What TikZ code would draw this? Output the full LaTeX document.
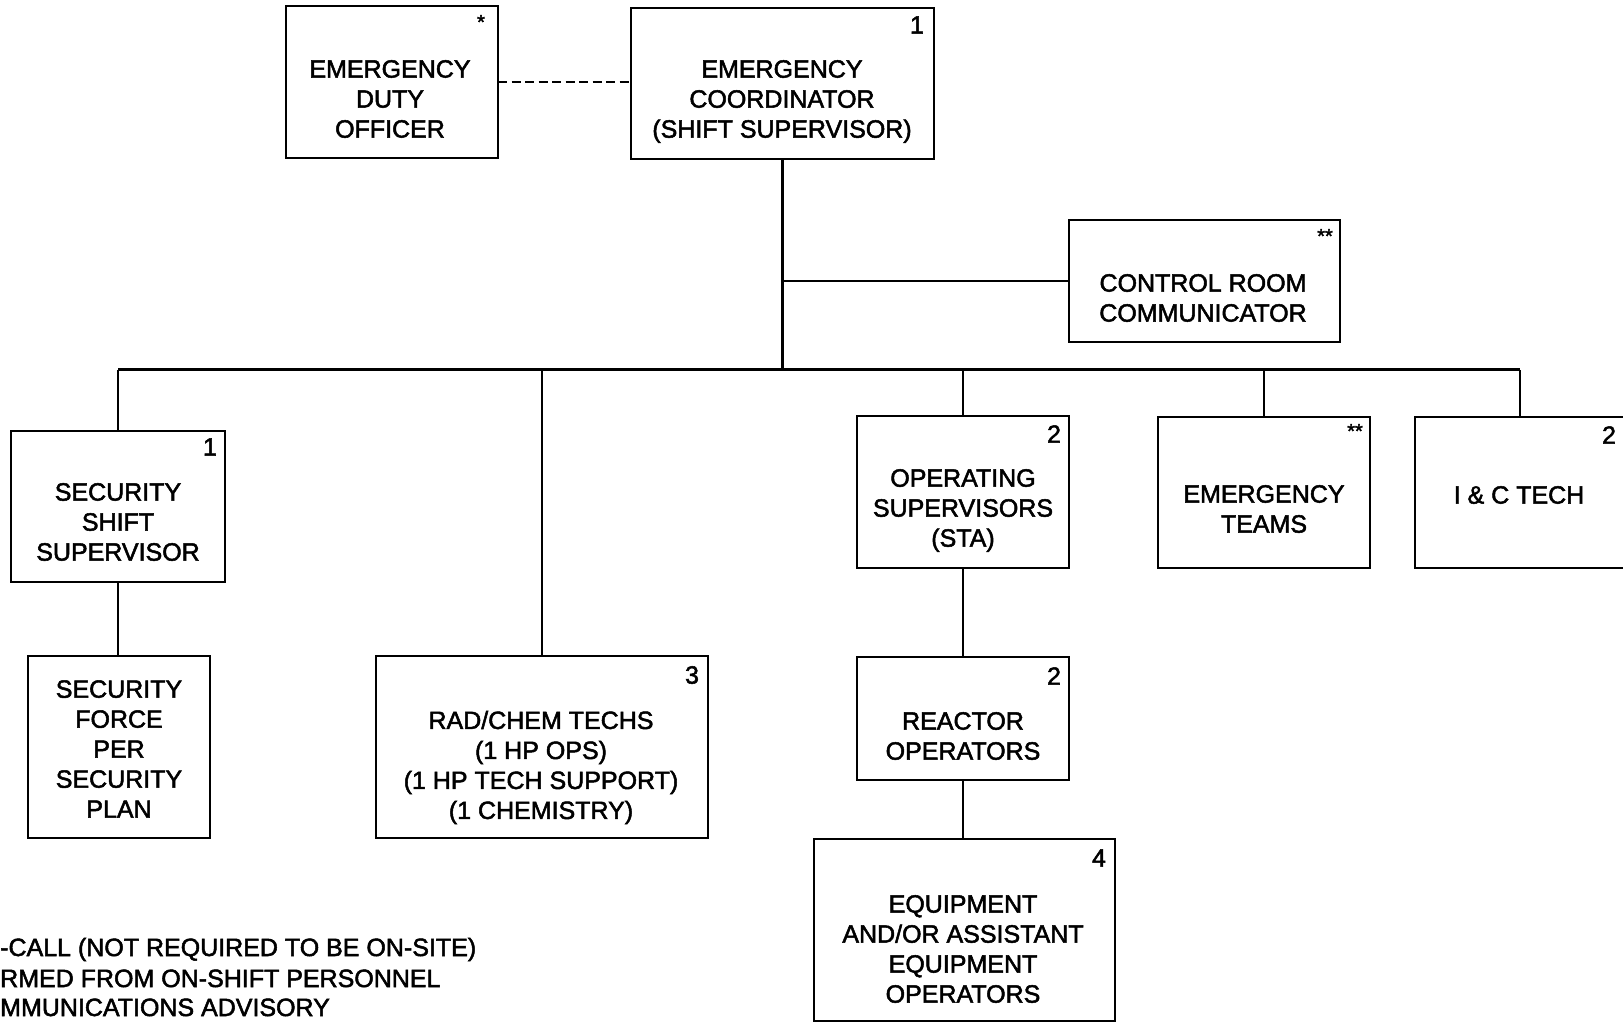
\documentclass[tikz,border=0pt]{standalone}
\usepackage{fontspec}
\setmainfont{Liberation Sans}[FakeBold=2]
\begin{document}
\begin{tikzpicture}[x=1pt,y=-1pt,
  box/.style={draw, line width=2.8pt, inner sep=0pt, outer sep=0pt},
  txt/.style={font=\fontsize{25}{30}\selectfont, align=center, inner sep=0pt},
  num/.style={font=\fontsize{25}{30}\selectfont, inner sep=0pt},
  ast/.style={font=\fontsize{20}{24}\selectfont, inner sep=0pt},
  conn/.style={line width=2.3pt},
  dashconn/.style={line width=2.3pt, dash pattern=on 9pt off 4.5pt},
  legend/.style={font=\fontsize{25}{30}\selectfont, inner sep=0pt, anchor=base west}]
\clip (0,0) rectangle (1623,1023);
\fill[white] (0,0) rectangle (1623,1023);

% boxes
\node[box, minimum width=212pt, minimum height=152pt] (edo) at (392,82) {};
\node[box, minimum width=303pt, minimum height=151pt] (ec) at (782.5,83.5) {};
\node[box, minimum width=271pt, minimum height=122pt] (crc) at (1204.5,281) {};
\node[box, minimum width=214pt, minimum height=151pt] (sss) at (118,506.5) {};
\node[box, minimum width=182pt, minimum height=182pt] (sf) at (119,747) {};
\node[box, minimum width=332pt, minimum height=182pt] (rc) at (542,747) {};
\node[box, minimum width=212pt, minimum height=152pt] (os) at (963,492) {};
\node[box, minimum width=212pt, minimum height=123pt] (ro) at (963,718.5) {};
\node[box, minimum width=301pt, minimum height=182pt] (eq) at (964.5,930) {};
\node[box, minimum width=212pt, minimum height=151pt] (et) at (1264,492.5) {};
\node[box, minimum width=210pt, minimum height=151pt] (ic) at (1520,492.5) {};

% texts
\node[txt] (edo-t) at (390,99) {EMERGENCY\\DUTY\\OFFICER};
\node[txt] (ec-t) at (782,101.5) {EMERGENCY\\COORDINATOR\\(SHIFT SUPERVISOR)};
\node[txt] (crc-t) at (1203,298) {CONTROL ROOM\\COMMUNICATOR};
\node[txt] (sss-t) at (118,522) {SECURITY\\SHIFT\\SUPERVISOR};
\node[txt] (sf-t) at (119,749) {SECURITY\\FORCE\\PER\\SECURITY\\PLAN};
\node[txt] (rc-t) at (541,767.5) {RAD/CHEM TECHS\\(1 HP OPS)\\(1 HP TECH SUPPORT)\\(1 CHEMISTRY)};
\node[txt] (os-t) at (963,510.5) {OPERATING\\SUPERVISORS\\(STA)};
\node[txt] (ro-t) at (963,736) {REACTOR\\OPERATORS};
\node[txt] (eq-t) at (963,949) {EQUIPMENT\\AND/OR ASSISTANT\\EQUIPMENT\\OPERATORS};
\node[txt] (et-t) at (1264,509) {EMERGENCY\\TEAMS};
\node[txt] (ic-t) at (1519,495) {I \& C TECH};

% markers
\node[ast] (edo-m) at ([shift={(-17,16)}]edo.north east) {*};
\node[num] (ec-m) at ([shift={(-17,17)}]ec.north east) {1};
\node[ast] (crc-m) at ([shift={(-15,16)}]crc.north east) {**};
\node[num] (sss-m) at ([shift={(-15,16)}]sss.north east) {1};
\node[num] (rc-m) at ([shift={(-16,19)}]rc.north east) {3};
\node[num] (os-m) at ([shift={(-15,18)}]os.north east) {2};
\node[num] (ro-m) at ([shift={(-15,19)}]ro.north east) {2};
\node[num] (eq-m) at ([shift={(-16,19)}]eq.north east) {4};
\node[ast] (et-m) at ([shift={(-15,14)}]et.north east) {**};
\node[num] (ic-m) at ([shift={(-16,18)}]ic.north east) {2};

% connectors
\coordinate (busL) at (118,369.5);
\coordinate (busR) at (1520,369.5);
\draw[dashconn] (edo.east) -- (edo.east -| ec.west);
\draw[conn] (ec.south) -- (ec.south |- busL);
\draw[conn] (crc.west) -- (crc.west -| ec.south);
\draw[conn] (busL) -- (busR);
\draw[conn] (sss.north) -- (sss.north |- busL);
\draw[conn] (sss.south) -- (sss.south |- sf.north);
\draw[conn] (rc.north) -- (rc.north |- busL);
\draw[conn] (os.north) -- (os.north |- busL);
\draw[conn] (os.south) -- (ro.north);
\draw[conn] (ro.south) -- (ro.south |- eq.north);
\draw[conn] (et.north) -- (et.north |- busL);
\draw[conn] (ic.north) -- (ic.north |- busR);

% legend
\node[legend] (lg1) at (0,956) {-CALL (NOT REQUIRED TO BE ON-SITE)};
\node[legend] (lg2) at (0,987) {RMED FROM ON-SHIFT PERSONNEL};
\node[legend] (lg3) at (0,1016) {MMUNICATIONS ADVISORY};
\end{tikzpicture}
\end{document}
